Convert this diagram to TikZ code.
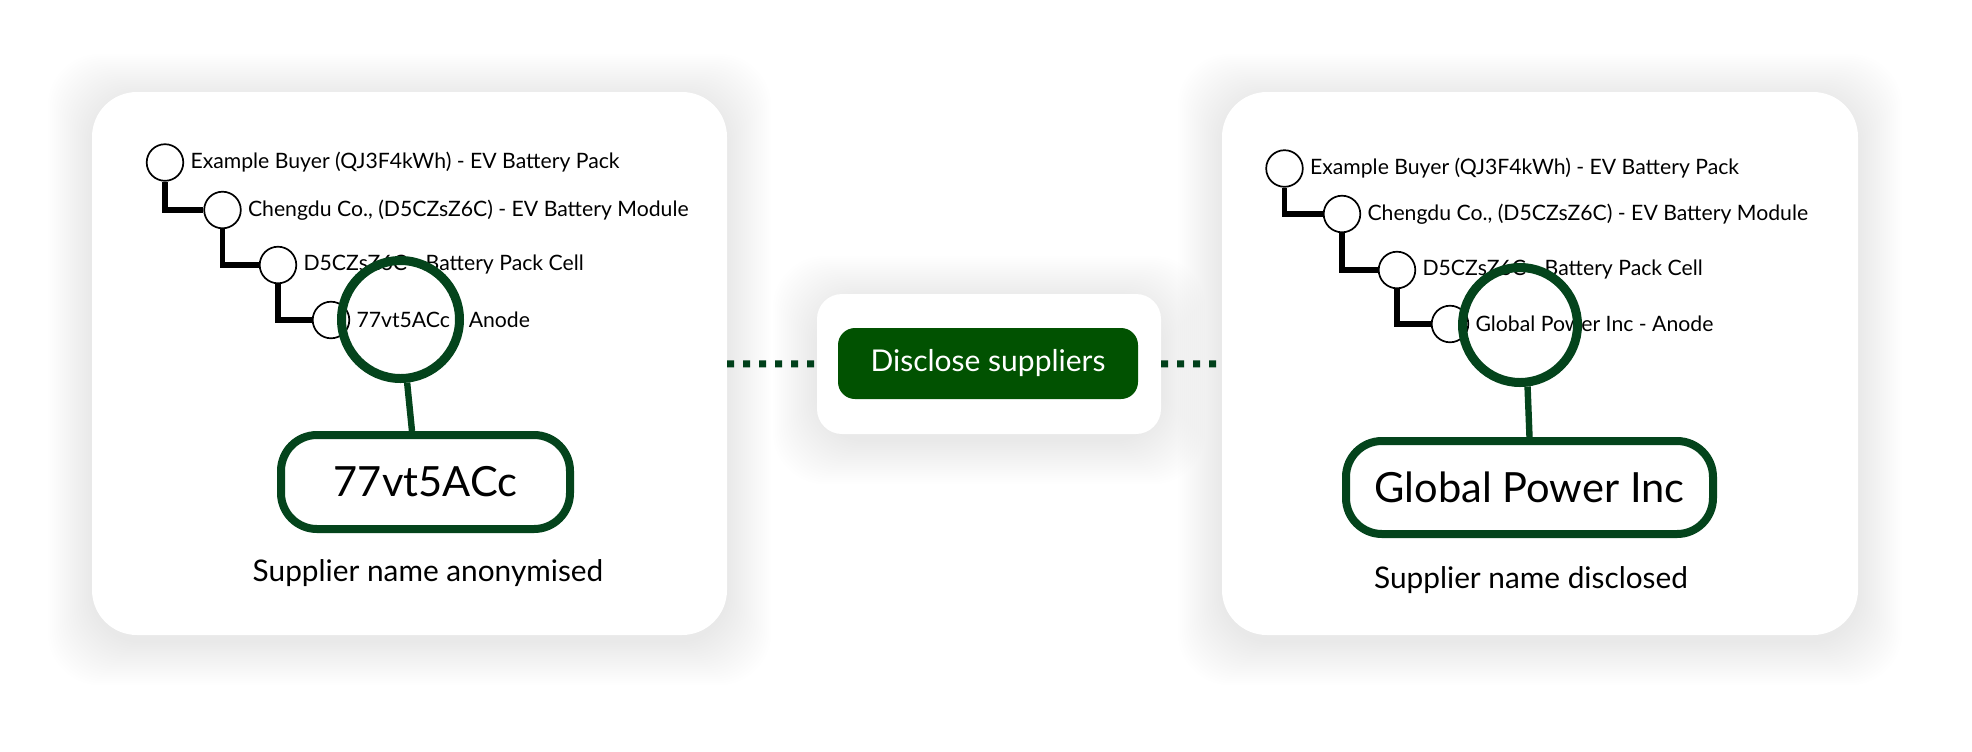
\documentclass[tikz,border=0pt]{standalone}
\usepackage{fontspec}
\setmainfont{Lato}
\usetikzlibrary{positioning,backgrounds}
\definecolor{lens_green}{RGB}{4,68,28}
\definecolor{btn_green}{RGB}{1,82,1}
\definecolor{dot_green}{RGB}{0,64,26}
\definecolor{haze}{RGB}{160,185,168}

\begin{document}
\begin{tikzpicture}[x=0.5pt,y=-0.5pt,
    card/.style={fill=white,rounded corners=22.5pt,minimum width=317.5pt,minimum height=271.5pt,inner sep=0pt,outer sep=0pt},
    knot/.style={circle,draw=black,line width=0.85pt,fill=white,minimum size=18.3pt,inner sep=0pt},
    leaf/.style={inner sep=0pt,font=\fontsize{10.6pt}{12pt}\selectfont},
    link/.style={line width=2.7pt},
    lens/.style={circle,draw=lens_green,line width=4.5pt,inner sep=0pt},
    handle/.style={draw=lens_green,line width=3.2pt},
    tag/.style={draw=lens_green,line width=4pt,fill=white,rounded corners=18pt,inner sep=0pt,font=\fontsize{20.8pt}{24pt}\selectfont},
    caption/.style={font=\fontsize{14.9pt}{17pt}\selectfont},
    dots/.style={dot_green,line width=3.5pt,dash pattern=on 3.5pt off 4.5pt}]
  \useasboundingbox (0,0) rectangle (1972,751);

  % cards
  \node[card] (cardL) at (409.5,363.5) {};
  \node[card,minimum width=318pt] (cardR) at (1540,363.5) {};
  \node[card,rounded corners=12.5pt,minimum width=172pt,minimum height=70pt] (panel) at (989,364) {};
  \node[fill=btn_green,text=white,rounded corners=8.5pt,minimum width=150pt,minimum height=35.5pt,
        font=\fontsize{15pt}{18pt}\selectfont] (btn) at (988,363.5) {Disclose suppliers};
  \draw[dots] (cardL) -- (panel);
  \draw[dots] (panel) -- (cardR);

  % left tree
  \node[knot] (aL1) at (165,162.5) {};
  \node[knot] (aL2) at (222.5,210) {};
  \node[knot] (aL3) at (278,265) {};
  \node[knot] (aL4) at (331,320) {};
  \node[leaf,right=3pt of aL1] (tL1) {Example Buyer (QJ3F4kWh) - EV Battery Pack};
  \node[leaf,right=3pt of aL2] (tL2) {Chengdu Co., (D5CZsZ6C) - EV Battery Module};
  \node[leaf,right=3pt of aL3] (tL3) {D5CZsZ6C - Battery Pack Cell};
  \node[leaf,right=3pt of aL4] (tL4) {77vt5ACc - Anode};
  \draw[link] (aL1) |- (aL2);
  \draw[link] (aL2) |- (aL3);
  \draw[link] (aL3) |- (aL4);

  \node[lens,minimum size=59pt] (lensL) at (400.5,319.5) {};
  \node[tag,minimum width=144.5pt,minimum height=47pt] (boxL) at (425.5,482) {77vt5ACc};
  \draw[handle] (lensL.-84) -- ([xshift=-6.75pt]boxL.north);
  \node[caption] (capL) at (428,573.5) {Supplier name anonymised};

  % right tree
  \node[knot] (aR1) at (1284.5,168.5) {};
  \node[knot] (aR2) at (1342,214) {};
  \node[knot] (aR3) at (1397,270) {};
  \node[knot] (aR4) at (1450,324) {};
  \node[leaf,right=3pt of aR1] (tR1) {Example Buyer (QJ3F4kWh) - EV Battery Pack};
  \node[leaf,right=3pt of aR2] (tR2) {Chengdu Co., (D5CZsZ6C) - EV Battery Module};
  \node[leaf,right=3pt of aR3] (tR3) {D5CZsZ6C - Battery Pack Cell};
  \node[leaf,right=3pt of aR4] (tR4) {Global Power Inc - Anode};
  \draw[link] (aR1) |- (aR2);
  \draw[link] (aR2) |- (aR3);
  \draw[link] (aR3) |- (aR4);

  \node[lens,minimum size=57.5pt] (lensR) at (1520,325) {};
  \node[tag,minimum width=183.5pt,minimum height=46.5pt] (boxR) at (1529.5,487.5) {Global Power Inc};
  \draw[handle] (lensR.-83.5) -- (boxR.north);
  \node[caption] (capR) at (1531,580) {Supplier name disclosed};

  % soft shadows behind the cards
  \begin{scope}[on background layer]
    \fill[white] (0,0) rectangle (1972,751);
    \foreach \n in {cardL,cardR,panel}
      \foreach \s in {2,4,...,44}
        \fill[haze,opacity=0.006,rounded corners=26pt] ([shift={(-\s,-\s+6)}]\n.north west) rectangle ([shift={(\s,\s+6)}]\n.south east);
  \end{scope}
\end{tikzpicture}
\end{document}
